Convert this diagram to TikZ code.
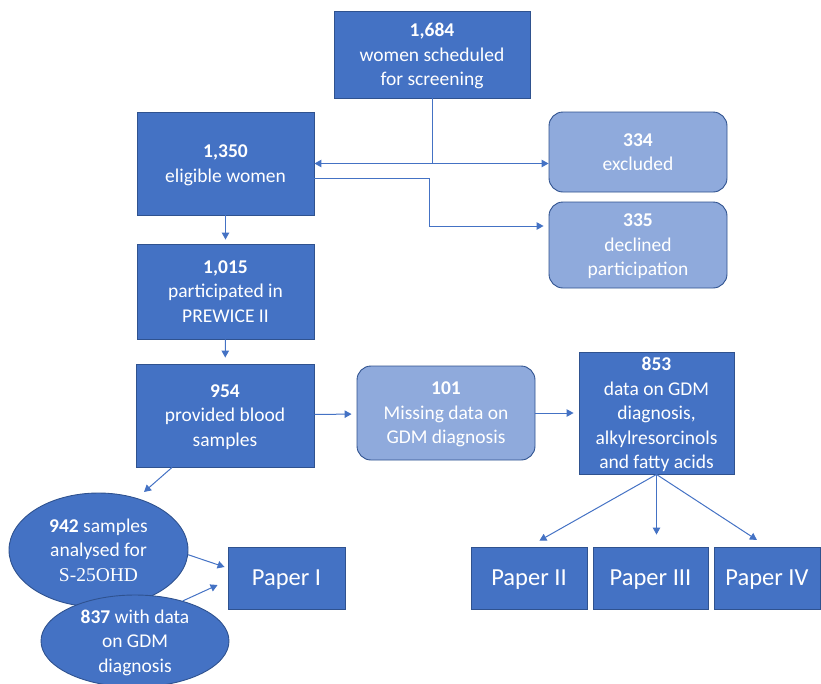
\documentclass[tikz,border=0pt]{standalone}
\usepackage{fontspec}
\setmainfont{Carlito}
\newfontfamily\timesfont{Liberation Serif}
\usepackage{tikz}
\usetikzlibrary{arrows.meta, shapes.geometric, positioning, calc}

\definecolor{boxblue}{RGB}{68,114,196}
\definecolor{lightblue}{RGB}{143,170,220}
\definecolor{boxline}{RGB}{47,82,143}
\definecolor{linkblue}{RGB}{68,114,196}

\begin{document}
\begin{tikzpicture}[x=1pt, y=-1pt,
  box/.style={draw=boxline, fill=boxblue, text=white, align=center, inner sep=0pt, text depth=0pt, line width=0.9pt, font=\fontsize{19.5}{24.5}\selectfont},
  light/.style={box, fill=lightblue, rounded corners=14pt},
  oval/.style={ellipse, box, inner sep=-6pt},
  paper/.style={box, font=\fontsize{24.5}{29}\selectfont},
  wire/.style={draw=linkblue, line width=1pt},
  link/.style={wire, -{Triangle[length=7pt, width=7.5pt]}}]

\useasboundingbox (0,0) rectangle (821,683);

\node[box, minimum width=196, minimum height=87] (n1684) at (432,54.5) {\textbf{1,684}\\women scheduled\\for screening};
\node[box, minimum width=177, minimum height=103] (n1350) at (225.5,163.5) {\textbf{1,350}\\eligible women};
\node[light, minimum width=178, minimum height=80] (n334) at (638,152) {\textbf{334}\\excluded};
\node[light, minimum width=178, minimum height=86] (n335) at (638,245) {\textbf{335}\\declined\\participation};
\node[box, minimum width=177, minimum height=95] (n1015) at (225.5,291.5) {\textbf{1,015}\\participated in\\PREWICE II};
\node[box, minimum width=178, minimum height=103] (n954) at (225,415.5) {\textbf{954}\\provided blood\\samples};
\node[light, minimum width=178, minimum height=94] (n101) at (446,413) {\textbf{101}\\Missing data on\\GDM diagnosis};
\node[box, minimum width=155, minimum height=122] (n853) at (656.5,413) {\textbf{853}\\data on GDM\\diagnosis,\\alkylresorcinols\\and fatty acids};

\node[oval, minimum width=179, minimum height=114] (e942) at (98.5,550) {\textbf{942} samples\\analysed for\\{\timesfont S-25OHD}};
\node[oval, minimum width=188, minimum height=92] (e837) at (135,641) {\textbf{837} with data\\on GDM\\diagnosis};

\node[paper, minimum width=117, minimum height=62] (paper1) at (286.5,578) {Paper I};
\node[paper, minimum width=116, minimum height=62] (paper2) at (529,578) {Paper II};
\node[paper, minimum width=115, minimum height=62] (paper3) at (650.5,578) {Paper III};
\node[paper, minimum width=106, minimum height=62] (paper4) at (767,578) {Paper IV};

\coordinate (split) at (n1684.south |- n1350.east);
\draw[wire] (n1684) -- (split);
\draw[link] (split) -- (n1350.east);
\draw[link] (split) -- (split -| n334.west);
\draw[link, shorten >=5pt] ([yshift=-14.5pt]n1350.east) -- ++(115,0) |- ([yshift=19pt]n335.west);

\draw[link, shorten >=4pt] (n1350) -- (n1015);
\draw[link, shorten >=6pt] (n1015) -- (n954);
\draw[link, shorten >=5pt] (n954) -- (n101);
\draw[link, shorten >=5pt] (n101) -- (n853);

\draw[link, shorten >=12pt] (n853.south) -- (paper2.north);
\draw[link, shorten >=12pt] (n853.south) -- (n853.south |- paper3.north);
\draw[link, shorten >=12pt] (n853.south) -- (paper4.north);

\coordinate (to942) at (144,492);
\draw[link] ([xshift=-53pt]n954.south) -- (to942);
\draw[link] (e942.-3) -- ([xshift=-3pt, yshift=11pt]paper1.west);
\draw[link] (e837.40) -- ([xshift=-10pt, yshift=-7pt]paper1.west);

\end{tikzpicture}
\end{document}
